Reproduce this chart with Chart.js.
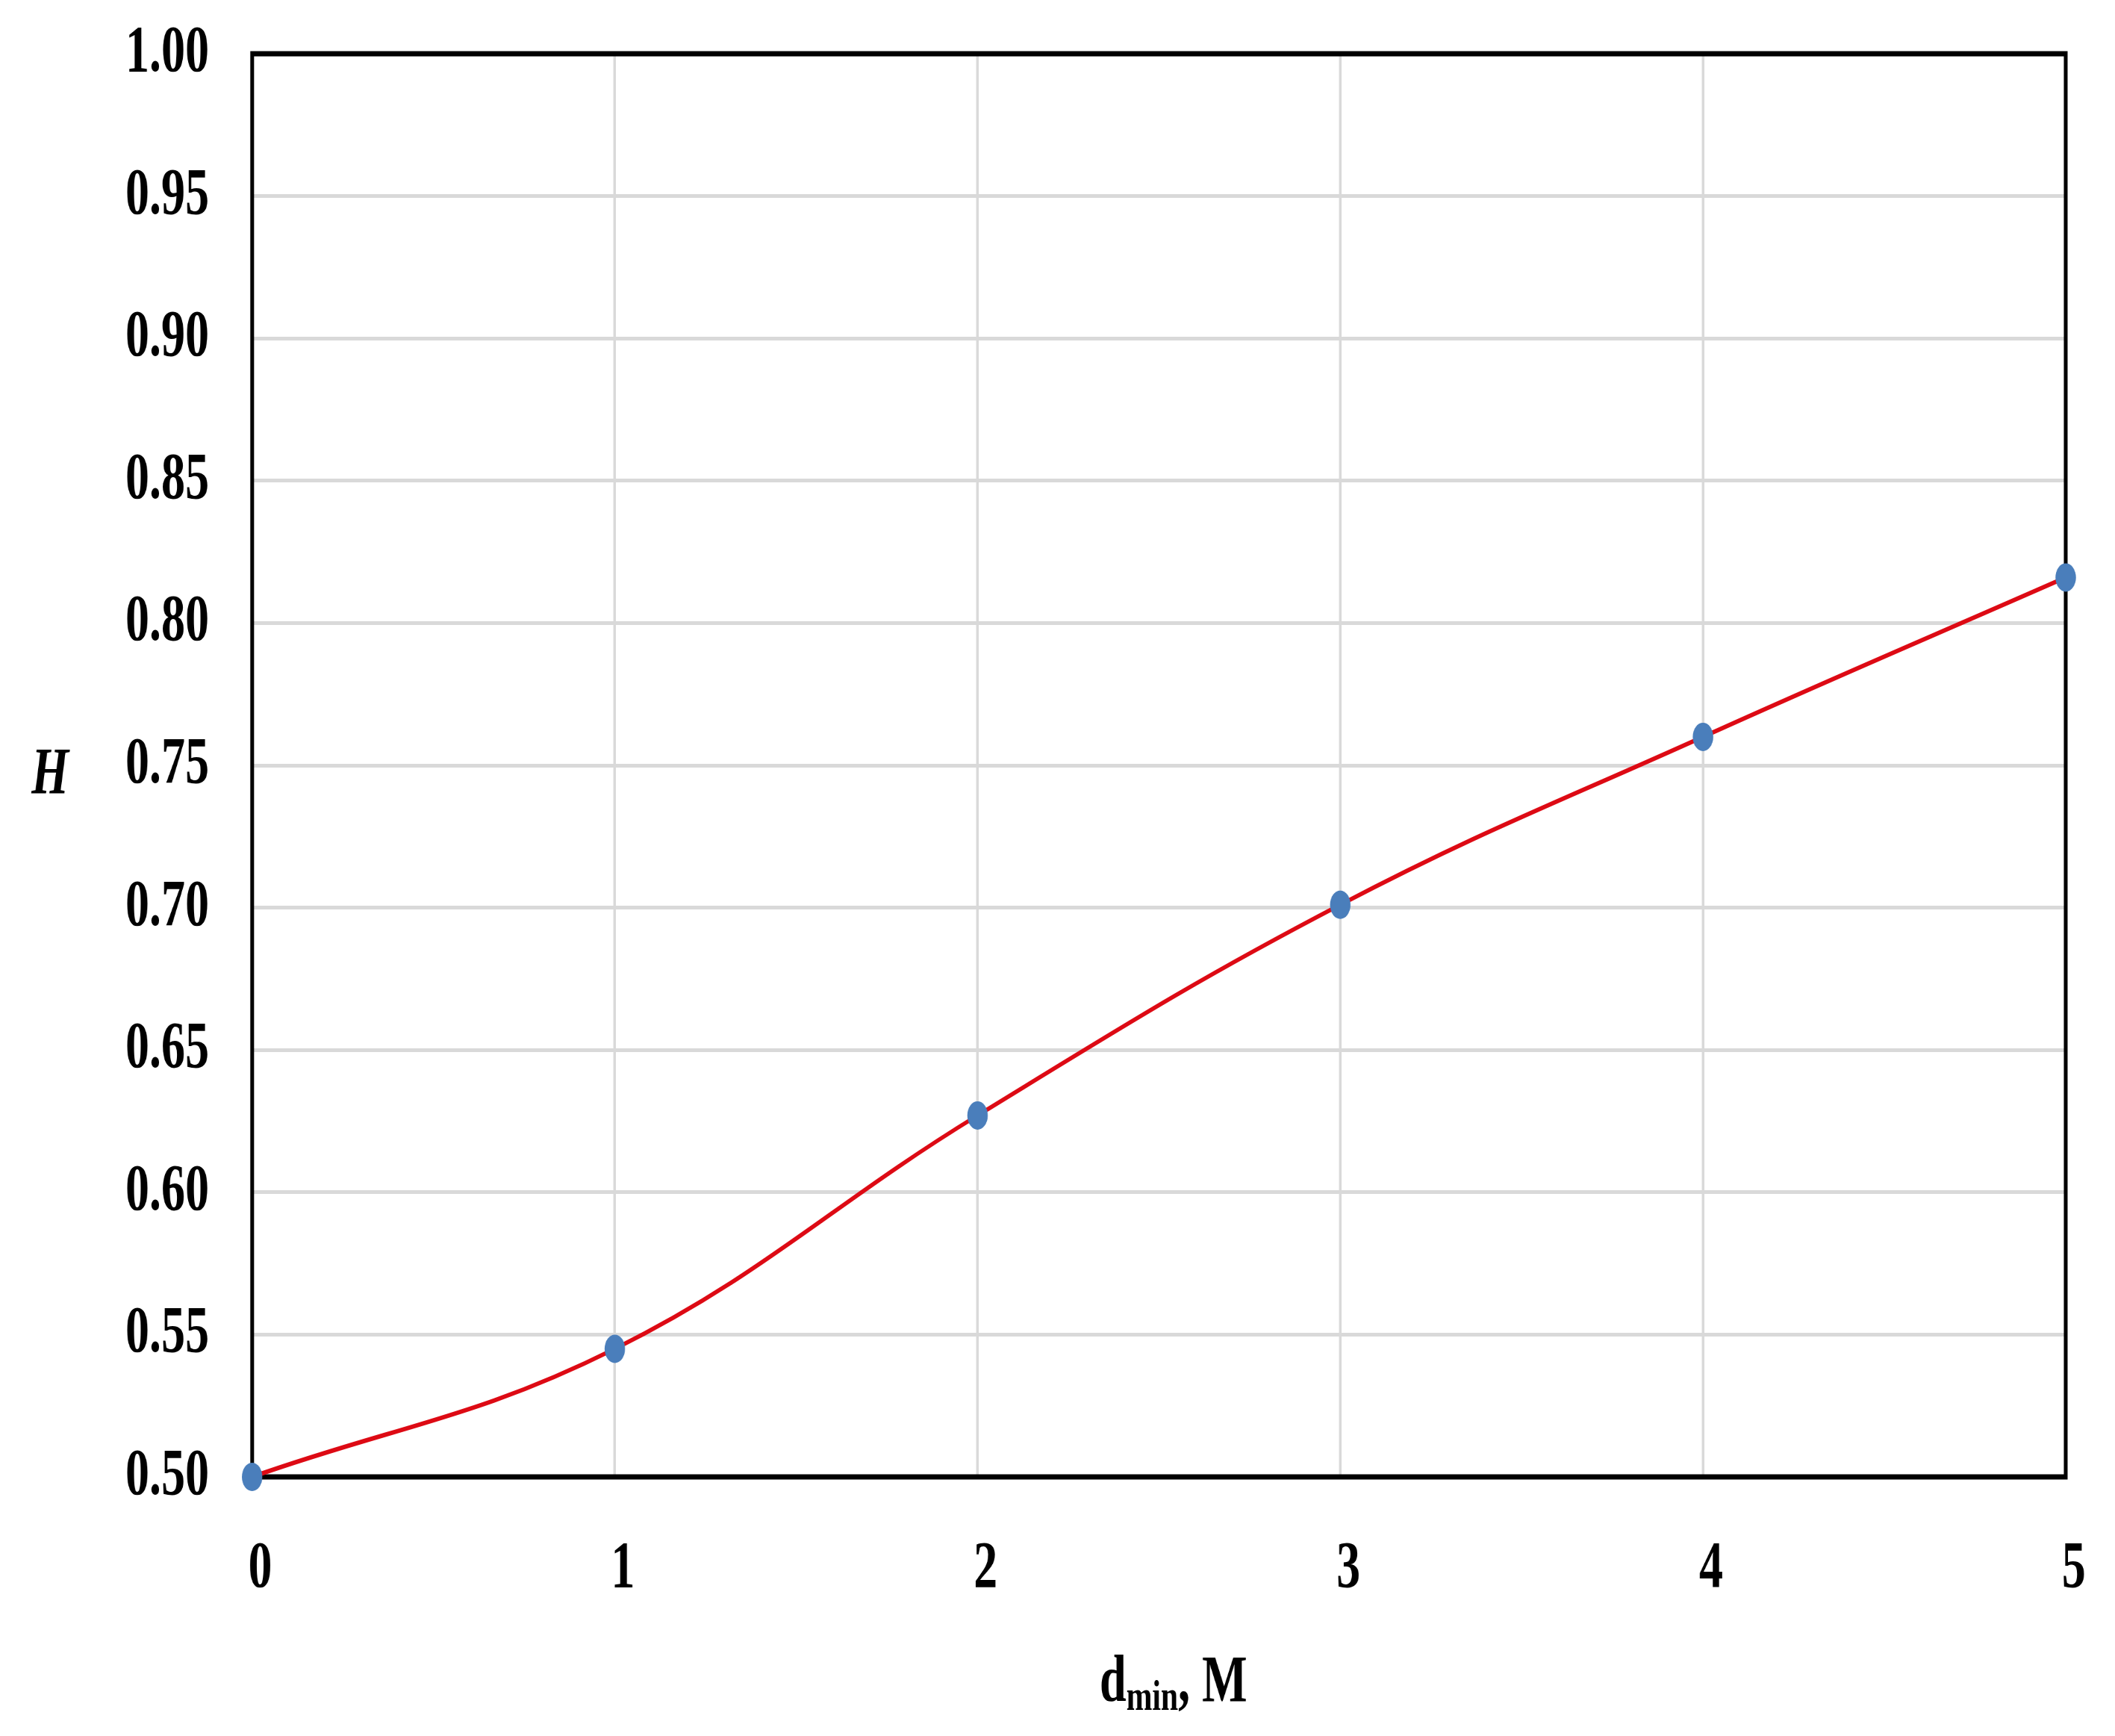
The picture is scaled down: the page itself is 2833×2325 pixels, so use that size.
<!DOCTYPE html>
<html>
<head>
<meta charset="utf-8">
<script src="https://cdn.jsdelivr.net/npm/chart.js@4.4.1/dist/chart.umd.min.js"></script>
<style>
  html, body { margin: 0; padding: 0; background: #fff; overflow: hidden; }
  #myChart { display: block; transform: scaleX(0.72); transform-origin: 0 0; }
</style>
</head>
<body>
<canvas id="myChart" width="3935" height="2325"></canvas>
<script>
// data
const dValues = [0, 1, 2, 3, 4, 5];
const hValues = [0.500, 0.545, 0.627, 0.701, 0.760, 0.816];
const xTicks = [0, 1, 2, 3, 4, 5];
const yTicks = [0.50, 0.55, 0.60, 0.65, 0.70, 0.75, 0.80, 0.85, 0.90, 0.95, 1.00];

const serif = "'Liberation Serif', 'Times New Roman', serif";

// frame + axis titles (x title has a subscript, y title sits horizontally)
const extras = {
  id: "extras",
  beforeDatasetsDraw(chart) {
    const { ctx, chartArea: a } = chart;
    ctx.save();
    ctx.strokeStyle = "#000";
    ctx.lineWidth = 7;
    ctx.strokeRect(a.left, a.top, a.right - a.left, a.bottom - a.top);
    ctx.restore();
  },
  afterDraw(chart) {
    const { ctx, chartArea: a } = chart;
    ctx.save();
    ctx.fillStyle = "#000";
    ctx.textBaseline = "alphabetic";

    // x title: d_min, M
    const big = "bold 89px " + serif;
    const small = "bold 58px " + serif;
    ctx.font = big;
    const wD = ctx.measureText("d").width;
    const wM = ctx.measureText(", M").width;
    ctx.font = small;
    const wMin = ctx.measureText("min").width;
    const total = wD + wMin + wM;
    let x = (a.left + a.right) / 2 + 27 - total / 2;
    const base = 2278;
    ctx.textAlign = "left";
    ctx.font = big;
    ctx.fillText("d", x, base);
    x += wD;
    ctx.font = small;
    ctx.fillText("min", x, base + 12);
    x += wMin;
    ctx.font = big;
    ctx.fillText(", M", x, base);

    // y title: H
    ctx.font = "italic bold 89px " + serif;
    ctx.textAlign = "center";
    ctx.fillText("H", 93, 1062);
    ctx.restore();
  }
};

new Chart("myChart", {
  type: "line",
  data: {
    datasets: [
      {
        label: "H",
        data: dValues.map((d, i) => ({ x: d, y: hValues[i] })),
        borderColor: "#dd0a14",
        borderWidth: 6,
        tension: 0.4,
        pointRadius: 19,
        pointHoverRadius: 19,
        pointBackgroundColor: "#4a7ebb",
        pointBorderWidth: 0,
        clip: false,
        fill: false
      }
    ]
  },
  options: {
    responsive: false,
    animation: false,
    devicePixelRatio: 1,
    layout: { padding: { top: 72, right: 92, left: 0, bottom: 0 } },
    plugins: {
      legend: { display: false },
      tooltip: { enabled: false }
    },
    scales: {
      x: {
        type: "linear",
        min: 0,
        max: 5,
        afterBuildTicks: (s) => { s.ticks = xTicks.map(v => ({ value: v })); },
        afterFit: (s) => { s.height = 347; s.paddingLeft = 0; s.paddingRight = 0; },
        grid: { color: "#d9d9d9", lineWidth: 5, drawTicks: false },
        border: { display: false },
        ticks: {
          padding: 71,
          labelOffset: 15,
          color: "#000",
          font: { family: serif, size: 89, weight: "bold" },
          callback: (v) => String(v)
        }
      },
      y: {
        min: 0.5,
        max: 1.0,
        afterBuildTicks: (s) => { s.ticks = yTicks.map(v => ({ value: v })); },
        afterFit: (s) => { s.width = 469; s.paddingTop = 0; s.paddingBottom = 0; },
        grid: { color: "#d9d9d9", lineWidth: 5, drawTicks: false },
        border: { display: false },
        ticks: {
          padding: 80,
          color: "#000",
          font: { family: serif, size: 89, weight: "bold" },
          callback: (v) => v.toFixed(2)
        }
      }
    }
  },
  plugins: [extras]
});
</script>
</body>
</html>
